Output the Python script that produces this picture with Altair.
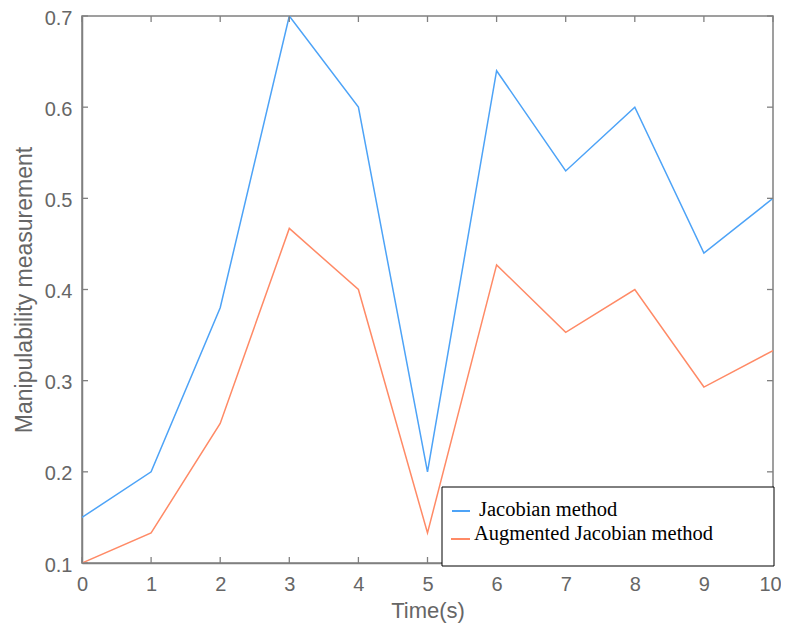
import altair as alt
import pandas as pd

# ---- data ----
time_s = [0, 1, 2, 3, 4, 5, 6, 7, 8, 9, 10]
jacobian = [0.15, 0.20, 0.38, 0.70, 0.60, 0.20, 0.64, 0.53, 0.60, 0.44, 0.50]
augmented = [0.10, 0.133, 0.253, 0.467, 0.40, 0.133, 0.427, 0.353, 0.40, 0.293, 0.333]
series_names = ["Jacobian method", "Augmented Jacobian method"]
series_colors = ["#4da3f7", "#ff8a66"]
x_ticks = [0, 1, 2, 3, 4, 5, 6, 7, 8, 9, 10]
y_ticks = [0.1, 0.2, 0.3, 0.4, 0.5, 0.6, 0.7]

W, H = 691, 547
GRAY = "#808080"
LABEL = "#666666"

df = pd.concat([
    pd.DataFrame({"t": time_s, "v": jacobian, "series": series_names[0]}),
    pd.DataFrame({"t": time_s, "v": augmented, "series": series_names[1]}),
])

xscale = alt.Scale(domain=[0, 10], nice=False, zero=False)
yscale = alt.Scale(domain=[0.1, 0.7], nice=False, zero=False)
cscale = alt.Scale(domain=series_names, range=series_colors)

x_axis = alt.Axis(values=x_ticks, format="d", ticks=False, grid=False, domainColor=GRAY,
                  domainWidth=1.5, labelFont="Liberation Sans", labelFontSize=20,
                  labelColor=LABEL, labelPadding=11, titleFont="Liberation Sans",
                  titleFontSize=22, titleFontWeight="normal", titleColor=LABEL,
                  titlePadding=6, labelFlush=False,
                  labelOffset=alt.ExprRef(expr="datum.value == 10 ? -3 : 0"))
y_axis = alt.Axis(values=y_ticks, ticks=False, grid=False, domainColor=GRAY,
                  domainWidth=1.5, labelFont="Liberation Sans", labelFontSize=20,
                  labelColor=LABEL, labelPadding=10, format=".1f", labelOffset=2,
                  titleFont="Liberation Sans", titleFontSize=23,
                  titleFontWeight="normal", titleColor=LABEL, titlePadding=8,
                  labelFlush=False)
X_TITLE = "Time(s)"
Y_TITLE = "Manipulability measurement"

lines = alt.Chart(df).mark_line(strokeWidth=1.5, clip=True).encode(
    x=alt.X("t:Q", scale=xscale, title=X_TITLE, axis=x_axis),
    y=alt.Y("v:Q", scale=yscale, title=Y_TITLE, axis=y_axis),
    color=alt.Color("series:N", scale=cscale, legend=None),
)

xt = pd.DataFrame({"t": x_ticks})
yt = pd.DataFrame({"v": y_ticks})
tick_bottom = alt.Chart(xt).mark_rule(color=GRAY, strokeWidth=1.3).encode(
    x=alt.X("t:Q", scale=xscale, title=X_TITLE, axis=x_axis), y=alt.value(H), y2=alt.value(H - 6))
tick_top = alt.Chart(xt).mark_rule(color=GRAY, strokeWidth=1.3).encode(
    x=alt.X("t:Q", scale=xscale, title=X_TITLE, axis=x_axis), y=alt.value(0), y2=alt.value(6))
tick_left = alt.Chart(yt).mark_rule(color=GRAY, strokeWidth=1.3).encode(
    y=alt.Y("v:Q", scale=yscale, title=Y_TITLE, axis=y_axis), x=alt.value(0), x2=alt.value(6))
tick_right = alt.Chart(yt).mark_rule(color=GRAY, strokeWidth=1.3).encode(
    y=alt.Y("v:Q", scale=yscale, title=Y_TITLE, axis=y_axis), x=alt.value(W), x2=alt.value(W - 6))

# ---- legend (manual box) ----
leg_df = pd.DataFrame({"series": series_names})
box = alt.Chart(leg_df.head(1)).mark_rect(fill="white", stroke="black", strokeWidth=1).encode(
    x=alt.value(360), x2=alt.value(692), y=alt.value(471), y2=alt.value(550))
leg1 = alt.Chart(leg_df.iloc[[0]]).mark_rule(strokeWidth=2).encode(
    x=alt.value(370), x2=alt.value(388), y=alt.value(495),
    color=alt.Color("series:N", scale=cscale, legend=None))
leg2 = alt.Chart(leg_df.iloc[[1]]).mark_rule(strokeWidth=2).encode(
    x=alt.value(369), x2=alt.value(388), y=alt.value(523),
    color=alt.Color("series:N", scale=cscale, legend=None))
txt1 = alt.Chart(leg_df.iloc[[0]]).mark_text(
    align="left", baseline="middle", font="Liberation Serif", fontSize=20.5, color="black").encode(
    x=alt.value(397), y=alt.value(494), text="series:N")
txt2 = alt.Chart(leg_df.iloc[[1]]).mark_text(
    align="left", baseline="middle", font="Liberation Serif", fontSize=20.5, color="black").encode(
    x=alt.value(392), y=alt.value(518), text="series:N")

chart = alt.layer(
    lines, tick_bottom, tick_top, tick_left, tick_right, box, leg1, leg2, txt1, txt2
).properties(
    width=W, height=H,
    autosize=alt.AutoSizeParams(type="none"),
    padding={"left": 74, "top": 8, "right": 8, "bottom": 64},
    background="white",
).configure_view(stroke=GRAY, strokeWidth=1.5)

chart.save("out.html", embed_options={"renderer": "svg", "actions": False})
